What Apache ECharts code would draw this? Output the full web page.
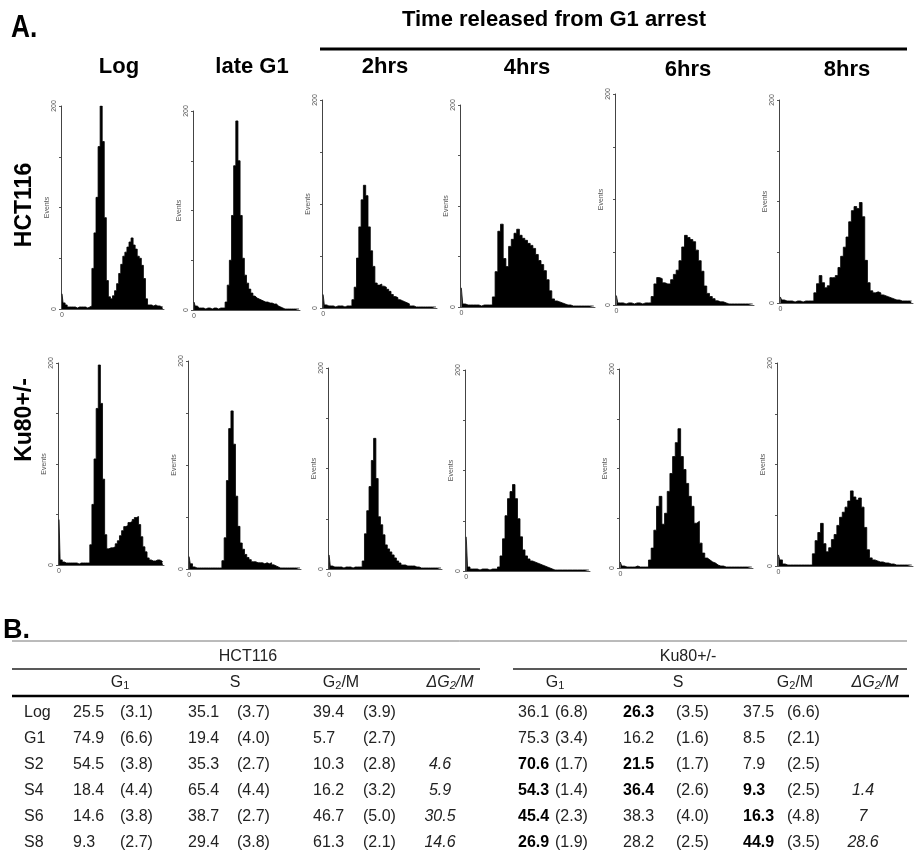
<!DOCTYPE html>
<html>
<head>
<meta charset="utf-8">
<script src="https://cdn.jsdelivr.net/npm/echarts@6/dist/echarts.min.js"></script>
<style>
  html, body { margin: 0; padding: 0; background: #fff; }
  #main { width: 915px; height: 855px; }
</style>
</head>
<body>
<div id="main"></div>
<script>
// DNA content channels (binned), 50 bins per histogram
var channels = [0,1,2,3,4,5,6,7,8,9,10,11,12,13,14,15,16,17,18,19,20,21,22,23,24,
  25,26,27,28,29,30,31,32,33,34,35,36,37,38,39,40,41,42,43,44,45,46,47,48,49];
var yTicks = [0, 200];

// HCT116 histograms (events per bin)
var hctLog = [15,6,4,2,2,2,2,1,2,2,2,2,1,2,3, 40,75,110,160,200,165,90,28,12,10,
  13,18,25,35,44,52,56,61,66,70,63,59,52,50,43, 30,10,4,4,3,4,3,3,2,2];
var hctLateG1 = [8,4,2,2,2,1,2,2,1,2,2,1,2,2,2, 8,25,50,95,145,190,150,95,52,35,
  27,21,17,14,12,11,10,9,8,8, 7,7,6,6,4,3,2,1,1,1, 1,1,1,1,1];
var hct2h = [13,3,2,2,2,1,2,2,2,1,2,2,2, 8,20,48,78,104,118,108,78,55,40,24,22,23,21,20,18,16,13,11,10,8,7,6,5,4,2,2,
  1,1,1,1,1,1,1,1,1,1];
var hct4h = [19,3,2,2,2,2,2,1,2,2,2,2, 10,35,75,82,48,40,60,67,73,77,71,68,66,63,61,58,52,46,42,36,27,16,8,6,5,4,3,2,2,
  1,1,1,1,1,1,1,1,1];
var hct6h = [9,2,2,1,2,2,1,2,2,1,2,2,2, 8,20,26,25,21,20,20,24,29,33,42,55,66,64,62,60,52,42,32,18,11,8,6,4,3,3,2,
  1,1,1,1,1,1,1,1,1,1];
var hct8h = [6,3,2,2,2,1,2,2,1,2,2,2,2, 10,19,27,20,15,17,25,25,27,35,46,55,65,80,91,95,93,99,85,42,20,12,10,11,10,8,7,
  6,5,4,3,3,2,2,2,2,2];

// Ku80+/- histograms
var kuLog = [45,5,3,2,2,2,2,2,2,1,2,2,2,2,2, 20,60,105,155,198,160,85,30,16,17,
  17,18,21,24,29,34,38,39,42,43,45,47,48,40,28, 18,13,7,5,4,4,5,5,4,3];
var kuLateG1 = [12,5,2,1,1,1,1,1,1,1,1,1,1,1,1, 8,30,85,135,152,120,70,41,25,19,
  14,11,9,7,7,6,6,6,5,6, 5,6,4,3,2,1,1,1,1,1, 1,1,1,1,1];
var ku2h = [14,3,2,2,2,2,1,2,2,2,1,2,2,2,2, 8,35,58,82,108,130,90,52,44,34,
  24,20,17,14,11,8,6,4,4,3, 3,3,3,2,2,1,1,1,1,1, 1,1,1,1,1];
var ku4h = [34,4,2,2,2,1,2,2,2,1,2,2,2, 4,15,32,55,72,79,86,72,52,34,21,15,12,10,9,8,7,6,5,4,3,2,
  1,1,1,1,1,1,1,1,1,1,1,1,1,1,1];
var ku6h = [6,2,1,1,1,1,2,1,1,1,1, 8,20,38,62,72,44,55,77,95,112,126,140,112,99,85,72,62,45,47,25,15,10,8,6,5,3,2,2,
  1,1,1,1,1,1,1,1,1,1,1];
var ku8h = [11,6,2,1,1,1,1,1,1,1,1,1,1, 12,25,33,42,22,14,18,26,31,40,48,53,58,64,74,68,65,67,58,38,16,8,6,5,4,4,3,3,2,2,
  1,1,1,1,1,1,1];

var panelTitles = ['Log', 'late G1', '2hrs', '4hrs', '6hrs', '8hrs'];
var cellLines = ['HCT116', 'Ku80+/-'];

// Table B
var rowLabels = ['Log', 'G1', 'S2', 'S4', 'S6', 'S8'];
var hctG1 = [25.5, 74.9, 54.5, 18.4, 14.6, 9.3];
var hctG1Sd = [3.1, 6.6, 3.8, 4.4, 3.8, 2.7];
var hctS = [35.1, 19.4, 35.3, 65.4, 38.7, 29.4];
var hctSSd = [3.7, 4.0, 2.7, 4.4, 2.7, 3.8];
var hctG2 = [39.4, 5.7, 10.3, 16.2, 46.7, 61.3];
var hctG2Sd = [3.9, 2.7, 2.8, 3.2, 5.0, 2.1];
var hctDelta = ['', '', '4.6', '5.9', '30.5', '14.6'];
var kuG1 = [36.1, 75.3, 70.6, 54.3, 45.4, 26.9];
var kuG1Sd = [6.8, 3.4, 1.7, 1.4, 2.3, 1.9];
var kuS = [26.3, 16.2, 21.5, 36.4, 38.3, 28.2];
var kuSSd = [3.5, 1.6, 1.7, 2.6, 4.0, 2.5];
var kuG2 = [37.5, 8.5, 7.9, 9.3, 16.3, 44.9];
var kuG2Sd = [6.6, 2.1, 2.5, 2.5, 4.8, 3.5];
var kuDelta = ['', '', '', '1.4', '7', '28.6'];
// significant values printed bold
var kuG1Bold = [0, 0, 1, 1, 1, 1];
var kuSBold = [1, 0, 1, 1, 0, 0];
var kuG2Bold = [0, 0, 0, 1, 1, 1];

var histograms = [hctLog, hctLateG1, hct2h, hct4h, hct6h, hct8h, kuLog, kuLateG1, ku2h, ku4h, ku6h, ku8h];

// panel boxes: left, top, width, height
var boxes = [
  [61, 106, 103, 203], [193, 111, 107, 199], [322, 100, 115, 208],
  [460, 105, 135, 202], [615, 94, 139, 211], [779, 100, 134, 203],
  [58, 363, 106, 202], [188, 361, 113, 208], [328, 368, 114, 201],
  [465, 370, 125, 201], [619, 369, 134, 199], [777, 363, 136, 203]
];

var FONT = '"Liberation Sans", Arial, sans-serif';
var grids = [], xAxes = [], yAxes = [], series = [];

histograms.forEach(function (h, i) {
  var b = boxes[i];
  grids.push({ left: b[0], top: b[1], width: b[2], height: b[3] });
  xAxes.push({
    type: 'category', gridIndex: i, data: channels, boundaryGap: true,
    axisLine: { lineStyle: { color: '#555', width: 1 } },
    axisTick: { interval: 3, length: 2, lineStyle: { color: '#777' } },
    axisLabel: {
      interval: 0, fontSize: 7, color: '#555', margin: 3, fontFamily: FONT,
      formatter: function (v, idx) { return idx === 0 ? '0' : ''; }
    }
  });
  yAxes.push({
    type: 'value', gridIndex: i, min: 0, max: 200, interval: 50,
    name: 'Events', nameLocation: 'middle', nameRotate: 90, nameGap: 6,
    nameTextStyle: { fontSize: 7, color: '#555', fontFamily: FONT },
    axisLine: { show: true, lineStyle: { color: '#444', width: 1 } },
    axisTick: { show: true, length: 2, lineStyle: { color: '#555' } },
    splitLine: { show: false },
    axisLabel: {
      rotate: 90, fontSize: 7, color: '#555', margin: 3, fontFamily: FONT,
      formatter: function (v) { return yTicks.indexOf(v) >= 0 ? String(v) : ''; }
    }
  });
  // histogram drawn as a filled step outline, so neighbouring bins join without seams
  series.push({
    type: 'line', xAxisIndex: i, yAxisIndex: i, data: h,
    step: 'middle', symbol: 'none', silent: true,
    lineStyle: { color: '#000', width: 0.8 },
    areaStyle: { color: '#000', opacity: 1 }
  });
});

function txt(x, y, s, st, extra) {
  var style = { text: s, fill: '#222', fontSize: 16, fontFamily: FONT, align: 'left', verticalAlign: 'middle' };
  for (var k in st) style[k] = st[k];
  var el = { type: 'text', x: x, y: y, style: style, silent: true };
  for (var e in extra) el[e] = extra[e];
  return el;
}
function hline(x1, x2, y, w, c) {
  return { type: 'line', shape: { x1: x1, y1: y, x2: x2, y2: y }, style: { stroke: c, lineWidth: w }, silent: true };
}

var g = [];
// Panel A labels
g.push(txt(11, 28, 'A.', { fontSize: 32, fontWeight: 'bold', fill: '#000' }, { scaleX: 0.82 }));
g.push(txt(554, 20, 'Time released from G1 arrest', { fontSize: 22, fontWeight: 'bold', fill: '#000', align: 'center' }));
g.push(hline(320, 907, 49, 3, '#000'));
var titleX = [119, 252, 385, 527, 688, 847];
var titleY = [67, 67, 67, 68, 70, 70];
panelTitles.forEach(function (t, i) {
  g.push(txt(titleX[i], titleY[i], t, { fontSize: 22, fontWeight: 'bold', fill: '#000', align: 'center' }));
});
g.push(txt(25, 205, cellLines[0], { fontSize: 23, fontWeight: 'bold', fill: '#000', align: 'center' }, { rotation: Math.PI / 2 }));
g.push(txt(25, 420, cellLines[1], { fontSize: 23, fontWeight: 'bold', fill: '#000', align: 'center' }, { rotation: Math.PI / 2 }));

// Panel B table
g.push(txt(3, 631, 'B.', { fontSize: 27, fontWeight: 'bold', fill: '#000' }));
g.push(hline(12, 907, 641, 1, '#777'));
g.push(txt(248, 657, cellLines[0], { align: 'center' }));
g.push(txt(688, 657, cellLines[1], { align: 'center' }));
g.push(hline(12, 480, 669, 1.5, '#222'));
g.push(hline(513, 907, 669, 1.5, '#222'));
g.push(hline(12, 909, 696, 2.5, '#000'));

var subRich = { s: { fontSize: 11, fontFamily: FONT, fill: '#222', verticalAlign: 'bottom' } };
var subRichIt = { s: { fontSize: 11, fontFamily: FONT, fill: '#222', fontStyle: 'italic', verticalAlign: 'bottom' } };
[[120, 235, 341, 450], [555, 678, 795, 875]].forEach(function (hx) {
  g.push(txt(hx[0], 683, 'G{s|1}', { align: 'center', rich: subRich }));
  g.push(txt(hx[1], 683, 'S', { align: 'center' }));
  g.push(txt(hx[2], 683, 'G{s|2}/M', { align: 'center', rich: subRich }));
  g.push(txt(hx[3], 683, '\u0394G{s|2}/M', { align: 'center', fontStyle: 'italic', rich: subRichIt }));
});

var rowY = [713, 739, 765, 791, 817, 843];
var cols = [
  { v: hctG1, sd: hctG1Sd, x: 73, sx: 120 },
  { v: hctS, sd: hctSSd, x: 188, sx: 237 },
  { v: hctG2, sd: hctG2Sd, x: 313, sx: 363 },
  { v: kuG1, sd: kuG1Sd, x: 518, sx: 555, bold: kuG1Bold },
  { v: kuS, sd: kuSSd, x: 623, sx: 676, bold: kuSBold },
  { v: kuG2, sd: kuG2Sd, x: 743, sx: 787, bold: kuG2Bold }
];
rowLabels.forEach(function (r, i) {
  g.push(txt(24, rowY[i], r, {}));
  cols.forEach(function (c) {
    var isBold = c.bold && c.bold[i];
    g.push(txt(c.x, rowY[i], c.v[i].toFixed(1), { fontWeight: isBold ? 'bold' : 'normal', fill: isBold ? '#000' : '#222' }));
    g.push(txt(c.sx, rowY[i], '(' + c.sd[i].toFixed(1) + ')', {}));
  });
  if (hctDelta[i]) g.push(txt(440, rowY[i], hctDelta[i], { align: 'center', fontStyle: 'italic' }));
  if (kuDelta[i]) g.push(txt(863, rowY[i], kuDelta[i], { align: 'center', fontStyle: 'italic' }));
});

var myChart = echarts.init(document.getElementById('main'), null, { renderer: 'canvas' });
myChart.setOption({
  animation: false,
  backgroundColor: '#fff',
  grid: grids,
  xAxis: xAxes,
  yAxis: yAxes,
  series: series,
  graphic: g
});
</script>
</body>
</html>
